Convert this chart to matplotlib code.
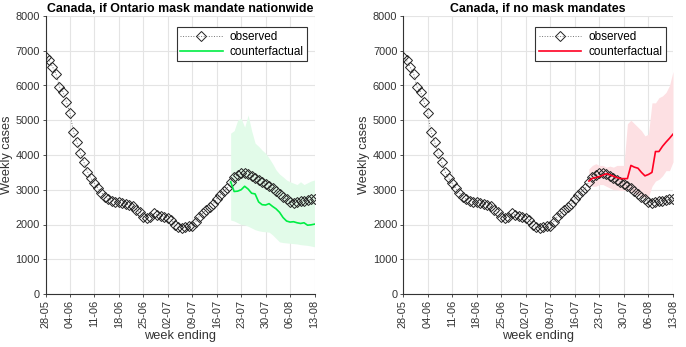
import numpy as np
import matplotlib
matplotlib.use("Agg")
import matplotlib.pyplot as plt

plt.rcParams['font.family'] = ['Liberation Sans', 'DejaVu Sans']

observed = [6820, 6730, 6540, 6345, 5960, 5820, 5530, 5200, 4670, 4380,
            4050, 3790, 3520, 3330, 3190, 3045, 2920, 2805, 2730, 2690,
            2660, 2660, 2615, 2595, 2565, 2520, 2420, 2355, 2230, 2180,
            2230, 2325, 2280, 2250, 2230, 2180, 2135, 1990, 1915, 1895,
            1915, 1945, 1965, 2085, 2230, 2325, 2420, 2500, 2595, 2740,
            2850, 2950, 3045, 3235, 3380, 3420, 3470, 3480, 3450, 3400,
            3350, 3290, 3230, 3170, 3100, 3040, 2960, 2880, 2800, 2720,
            2660, 2630, 2660, 2680, 2690, 2700, 2720, 2740]

cf_start = 53
cf_ontario = [3230, 2950, 2960, 3000, 3100, 3020, 2900, 2880, 2650, 2570,
              2560, 2600, 2520, 2450, 2350, 2200, 2100, 2070, 2080, 2050,
              2030, 2050, 1980, 1990, 2010]
cf_ontario_hi = [4630, 4700, 5000, 5060, 4800, 5150, 4700, 4340, 4250, 4140,
                 4050, 3910, 3750, 3570, 3450, 3370, 3280, 3230, 3190, 3150,
                 3230, 3150, 3200, 3250, 3280]
cf_ontario_lo = [2130, 2100, 2050, 2000, 1990, 1950, 1900, 1850, 1820, 1800,
                 1790, 1780, 1700, 1600, 1500, 1480, 1470, 1460, 1450, 1440,
                 1420, 1410, 1400, 1380, 1360]

cf_none = [3250, 3330, 3350, 3380, 3420, 3460, 3430, 3390, 3350, 3320,
           3320, 3320, 3700, 3650, 3620, 3500, 3400, 3440, 3500, 4100,
           4100, 4250, 4370, 4480, 4600]
cf_none_hi = [3600, 3700, 3750, 3700, 3700, 3650, 3680, 3650, 3700, 3700,
              3700, 4900, 5000, 4900, 4800, 4700, 4550, 4600, 5500, 5500,
              5650, 5700, 5800, 6000, 6400]
cf_none_lo = [3150, 3100, 3100, 3150, 3150, 3100, 3050, 3000, 3000, 2980,
              2980, 3000, 2950, 2900, 2850, 2800, 2780, 2800, 3100, 3250,
              3300, 3400, 3550, 3550, 3800]

titles = ["Canada, if Ontario mask mandate nationwide", "Canada, if no mask mandates"]
tick_labels = ["28-05", "04-06", "11-06", "18-06", "25-06", "02-07", "09-07",
               "16-07", "23-07", "30-07", "06-08", "13-08"]

days = np.arange(len(observed))
cf_days = np.arange(cf_start, cf_start + len(cf_ontario))

fig = plt.figure(figsize=(6.86, 3.47), dpi=100)
axes = [fig.add_axes([45.5/686, 53/347, 269/686, 278/347]),
        fig.add_axes([403/686, 53/347, 270/686, 278/347])]

specs = [(cf_ontario, cf_ontario_lo, cf_ontario_hi, '#00ee44', '#e2fbe9'),
         (cf_none, cf_none_lo, cf_none_hi, '#ff0022', '#fde0e3')]

for ax, title, (cf, lo, hi, col, band) in zip(axes, titles, specs):
    ax.fill_between(cf_days, lo, hi, color=band, lw=0, zorder=1)
    ax.plot(days, observed, ls=':', color='#777777', lw=0.7, marker='D',
            mfc='none', mec='#222222', ms=5.6, mew=0.7, label='observed', zorder=3)
    ax.plot(cf_days, cf, color=col, lw=1.2, label='counterfactual', zorder=4)
    ax.set_xlim(0, 77)
    ax.set_ylim(0, 8000)
    ax.set_xticks(np.arange(0, 78, 7))
    ax.set_xticklabels(tick_labels, rotation=90)
    ax.set_yticks(np.arange(0, 8001, 1000))
    ax.grid(True, color='#e4e4e4', lw=0.8)
    ax.set_axisbelow(True)
    for s in ['top', 'right']:
        ax.spines[s].set_visible(False)
    for s in ['left', 'bottom']:
        ax.spines[s].set_color('#333333')
        ax.spines[s].set_linewidth(0.8)
    ax.tick_params(labelsize=7.9, colors='#333333', length=2.5, width=0.6, pad=1.5)
    ax.set_xlabel('week ending', fontsize=9.2, color='#333333', labelpad=2)
    ax.set_ylabel('Weekly cases', fontsize=9.2, color='#333333', labelpad=2)
    ax.set_title(title, fontsize=8.9, fontweight='bold', pad=3)
    leg = ax.legend(loc='upper right', fontsize=8.5, frameon=True, fancybox=False,
                    edgecolor='#333333', framealpha=1, borderpad=0.3,
                    handlelength=3.6, handletextpad=0.6, labelspacing=0.25,
                    bbox_to_anchor=(0.995, 0.98))
    leg.get_frame().set_linewidth(0.8)

fig.savefig('out.png', dpi=100)
